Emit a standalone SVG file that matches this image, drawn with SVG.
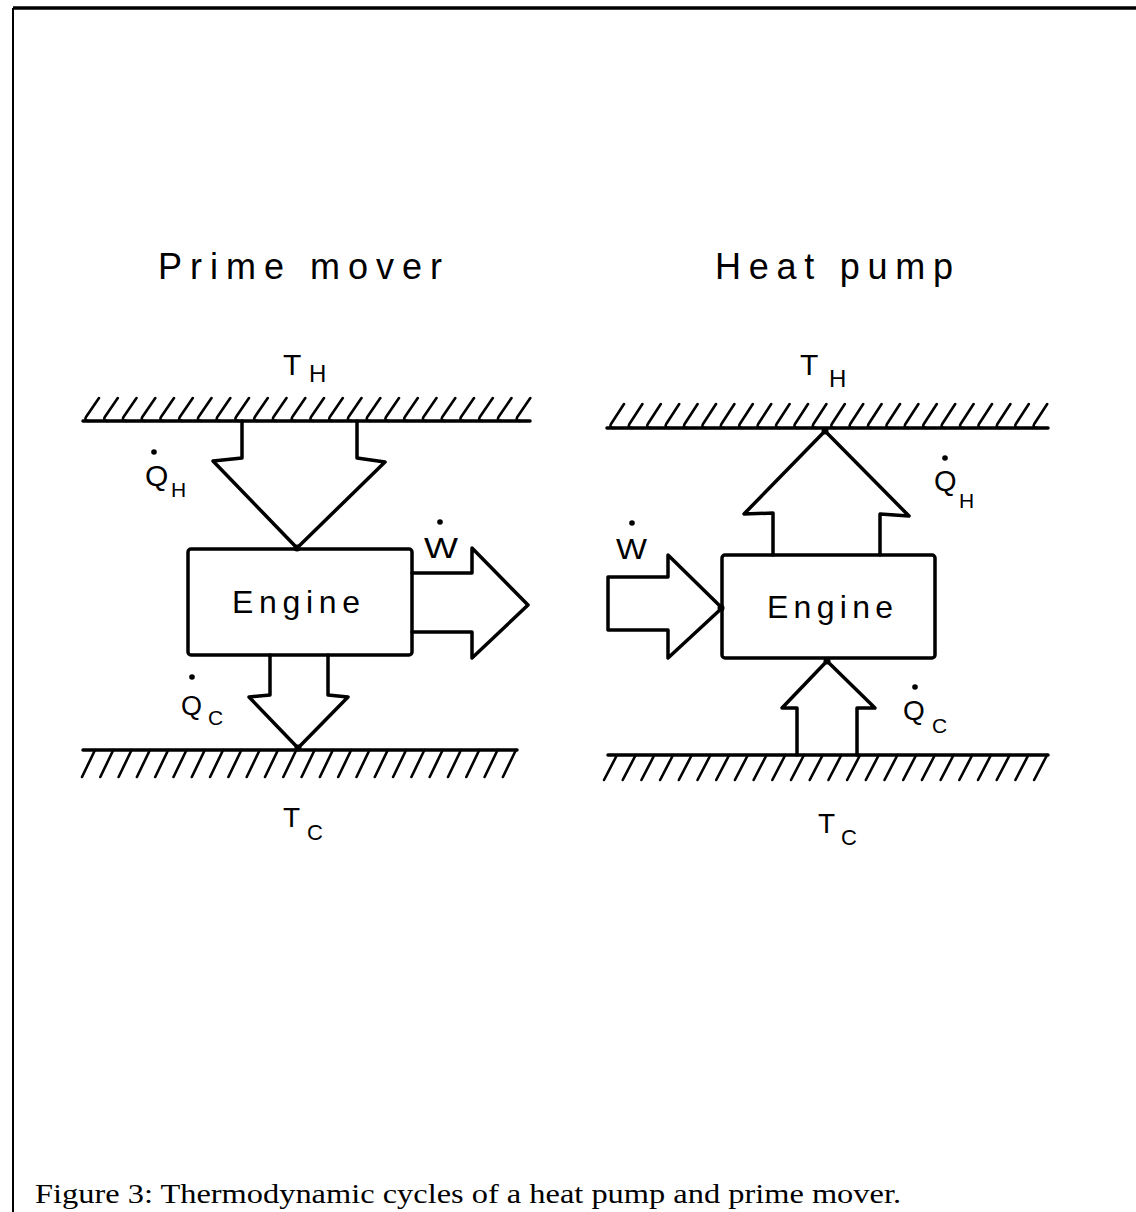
<svg xmlns="http://www.w3.org/2000/svg" width="1136" height="1212" viewBox="0 0 1136 1212">
<style>
.ln{fill:none;stroke:#000;stroke-width:3.5;stroke-linejoin:round;stroke-linecap:round}
.ht{fill:none;stroke:#000;stroke-width:2.6;stroke-linecap:round;stroke-linejoin:round}
.box{fill:#fff;stroke:#000;stroke-width:3.5}
.sans{font-family:"Liberation Sans",Arial,sans-serif;fill:#000}
.cap{font-family:"Liberation Serif","Times New Roman",serif;fill:#000}
.dot{fill:#000}
</style>
<defs>
<path id="hkU" class="ht" d="M14 -23L1 -4Q-1 0 4 0"/>
<path id="hkU2" class="ht" d="M14 -24L1 -4Q-1 0 4 0"/>
</defs>
<rect width="1136" height="1212" fill="#fff"/>
<g id="frame">
<line x1="13" y1="8" x2="1136" y2="8" stroke="#000" stroke-width="3.5"/>
<line x1="13" y1="8" x2="13" y2="1212" stroke="#000" stroke-width="2"/>
</g>
<g id="titles">
<text class="sans" x="158" y="279" font-size="36" textLength="284" lengthAdjust="spacing">Prime mover</text>
<text class="sans" x="715" y="279" font-size="36" textLength="238" lengthAdjust="spacing">Heat pump</text>
</g>
<g id="hot-reservoir-left">
<line class="ln" x1="83" y1="421" x2="530" y2="421"/>
<path class="ht" d="M99 398L86 417Q84 421 89 421M117.8 398L104.8 417Q102.8 421 107.8 421M136.5 398L123.5 417Q121.5 421 126.5 421M155.3 398L142.3 417Q140.3 421 145.3 421M174 398L161 417Q159 421 164 421M192.8 398L179.8 417Q177.8 421 182.8 421M211.5 398L198.5 417Q196.5 421 201.5 421M230.3 398L217.3 417Q215.3 421 220.3 421M249 398L236 417Q234 421 239 421M267.8 398L254.8 417Q252.8 421 257.8 421M286.5 398L273.5 417Q271.5 421 276.5 421M305.3 398L292.3 417Q290.3 421 295.3 421M324 398L311 417Q309 421 314 421M342.8 398L329.8 417Q327.8 421 332.8 421M361.5 398L348.5 417Q346.5 421 351.5 421M380.3 398L367.3 417Q365.3 421 370.3 421M399 398L386 417Q384 421 389 421M417.8 398L404.8 417Q402.8 421 407.8 421M436.5 398L423.5 417Q421.5 421 426.5 421M455.3 398L442.3 417Q440.3 421 445.3 421M474 398L461 417Q459 421 464 421M492.8 398L479.8 417Q477.8 421 482.8 421M511.5 398L498.5 417Q496.5 421 501.5 421M530.3 398L517.3 417Q515.3 421 520.3 421"/>
<text class="sans" x="283" y="375" font-size="30">T</text>
<text class="sans" x="309" y="382" font-size="24">H</text>
</g>
<g id="cold-reservoir-left">
<line class="ln" x1="83" y1="750" x2="517" y2="750"/>
<path class="ht" d="M95 750l-13 27M113.3 750l-13 27M131.6 750l-13 27M149.9 750l-13 27M168.2 750l-13 27M186.5 750l-13 27M204.8 750l-13 27M223.1 750l-13 27M241.4 750l-13 27M259.7 750l-13 27M278 750l-13 27M296.3 750l-13 27M314.6 750l-13 27M332.9 750l-13 27M351.2 750l-13 27M369.5 750l-13 27M387.8 750l-13 27M406.1 750l-13 27M424.4 750l-13 27M442.7 750l-13 27M461 750l-13 27M479.3 750l-13 27M497.6 750l-13 27M515.9 750l-13 27"/>
<text class="sans" x="283" y="827" font-size="28">T</text>
<text class="sans" x="307" y="840" font-size="22">C</text>
</g>
<g id="engine-left">
<rect class="box" x="188" y="549" width="224" height="106" rx="3"/>
<text class="sans" x="232" y="613" font-size="32" textLength="128" lengthAdjust="spacing">Engine</text>
</g>
<g id="hot-reservoir-right">
<line class="ln" x1="607" y1="428" x2="1048" y2="428"/>
<path class="ht" d="M624 404L611 424Q609 428 614 428M642.4 404L629.4 424Q627.4 428 632.4 428M660.8 404L647.8 424Q645.8 428 650.8 428M679.2 404L666.2 424Q664.2 428 669.2 428M697.6 404L684.6 424Q682.6 428 687.6 428M716 404L703 424Q701 428 706 428M734.4 404L721.4 424Q719.4 428 724.4 428M752.8 404L739.8 424Q737.8 428 742.8 428M771.2 404L758.2 424Q756.2 428 761.2 428M789.6 404L776.6 424Q774.6 428 779.6 428M808 404L795 424Q793 428 798 428M826.4 404L813.4 424Q811.4 428 816.4 428M844.8 404L831.8 424Q829.8 428 834.8 428M863.2 404L850.2 424Q848.2 428 853.2 428M881.6 404L868.6 424Q866.6 428 871.6 428M900 404L887 424Q885 428 890 428M918.4 404L905.4 424Q903.4 428 908.4 428M936.8 404L923.8 424Q921.8 428 926.8 428M955.2 404L942.2 424Q940.2 428 945.2 428M973.6 404L960.6 424Q958.6 428 963.6 428M992 404L979 424Q977 428 982 428M1010.4 404L997.4 424Q995.4 428 1000.4 428M1028.8 404L1015.8 424Q1013.8 428 1018.8 428M1047.2 404L1034.2 424Q1032.2 428 1037.2 428"/>
<text class="sans" x="800" y="375" font-size="30">T</text>
<text class="sans" x="829" y="387" font-size="24">H</text>
</g>
<g id="cold-reservoir-right">
<line class="ln" x1="608" y1="755" x2="1048" y2="755"/>
<path class="ht" d="M617 755l-13 25M635.7 755l-13 25M654.4 755l-13 25M673.1 755l-13 25M691.8 755l-13 25M710.5 755l-13 25M729.2 755l-13 25M747.9 755l-13 25M766.6 755l-13 25M785.3 755l-13 25M804 755l-13 25M822.7 755l-13 25M841.4 755l-13 25M860.1 755l-13 25M878.8 755l-13 25M897.5 755l-13 25M916.2 755l-13 25M934.9 755l-13 25M953.6 755l-13 25M972.3 755l-13 25M991 755l-13 25M1009.7 755l-13 25M1028.4 755l-13 25M1047.1 755l-13 25"/>
<text class="sans" x="818" y="833" font-size="28">T</text>
<text class="sans" x="841" y="845" font-size="22">C</text>
</g>
<g id="engine-right">
<rect class="box" x="722" y="555" width="213" height="103" rx="3"/>
<text class="sans" x="767" y="618" font-size="32" textLength="126" lengthAdjust="spacing">Engine</text>
</g>
<g id="connectors">
<path id="qh-left" class="ln" d="M242 421V458L213 461L297 548L385 462L357 458V421"/>
<circle class="dot" cx="297" cy="548" r="3.5"/>
<path id="w-left" class="ln" d="M412 573H472V548L528 605L472 658V632H412"/>
<path id="qc-left" class="ln" d="M270 655V695L249 697L298 748L348 697L328 695V655"/>
<circle class="dot" cx="298" cy="748" r="3.5"/>
<path id="qh-right" class="ln" d="M773 555V513L744 514L825 431L909 516L880 514V555"/>
<circle class="dot" cx="825" cy="431" r="3.5"/>
<path id="w-right" class="ln" d="M608 577H668V555L722 608L668 658V630H608Z"/>
<circle class="dot" cx="721" cy="608" r="3.5"/>
<path id="qc-right" class="ln" d="M797 755V708L782 708L827 661L875 708L857 708V755"/>
<circle class="dot" cx="827" cy="661" r="3.5"/>
</g>
<g id="labels">
<circle class="dot" cx="154" cy="452" r="2.8"/>
<text class="sans" x="145" y="486" font-size="30">Q</text>
<text class="sans" x="171" y="497" font-size="21">H</text>
<circle class="dot" cx="440" cy="522" r="2.8"/>
<text class="sans" x="424" y="558" font-size="30" textLength="34" lengthAdjust="spacingAndGlyphs">W</text>
<circle class="dot" cx="192" cy="677" r="2.8"/>
<text class="sans" x="181" y="715" font-size="27">Q</text>
<text class="sans" x="208" y="725" font-size="21">C</text>
<circle class="dot" cx="945" cy="458" r="2.8"/>
<text class="sans" x="934" y="491" font-size="29">Q</text>
<text class="sans" x="959" y="508" font-size="21">H</text>
<circle class="dot" cx="632" cy="523" r="2.8"/>
<text class="sans" x="616" y="559" font-size="30" textLength="31" lengthAdjust="spacingAndGlyphs">W</text>
<circle class="dot" cx="915" cy="687" r="2.8"/>
<text class="sans" x="903" y="720" font-size="28">Q</text>
<text class="sans" x="932" y="733" font-size="21">C</text>
</g>
<g id="caption">
<text class="cap" x="35" y="1203" font-size="28" textLength="866" lengthAdjust="spacingAndGlyphs">Figure 3: Thermodynamic cycles of a heat pump and prime mover.</text>
</g>
</svg>
